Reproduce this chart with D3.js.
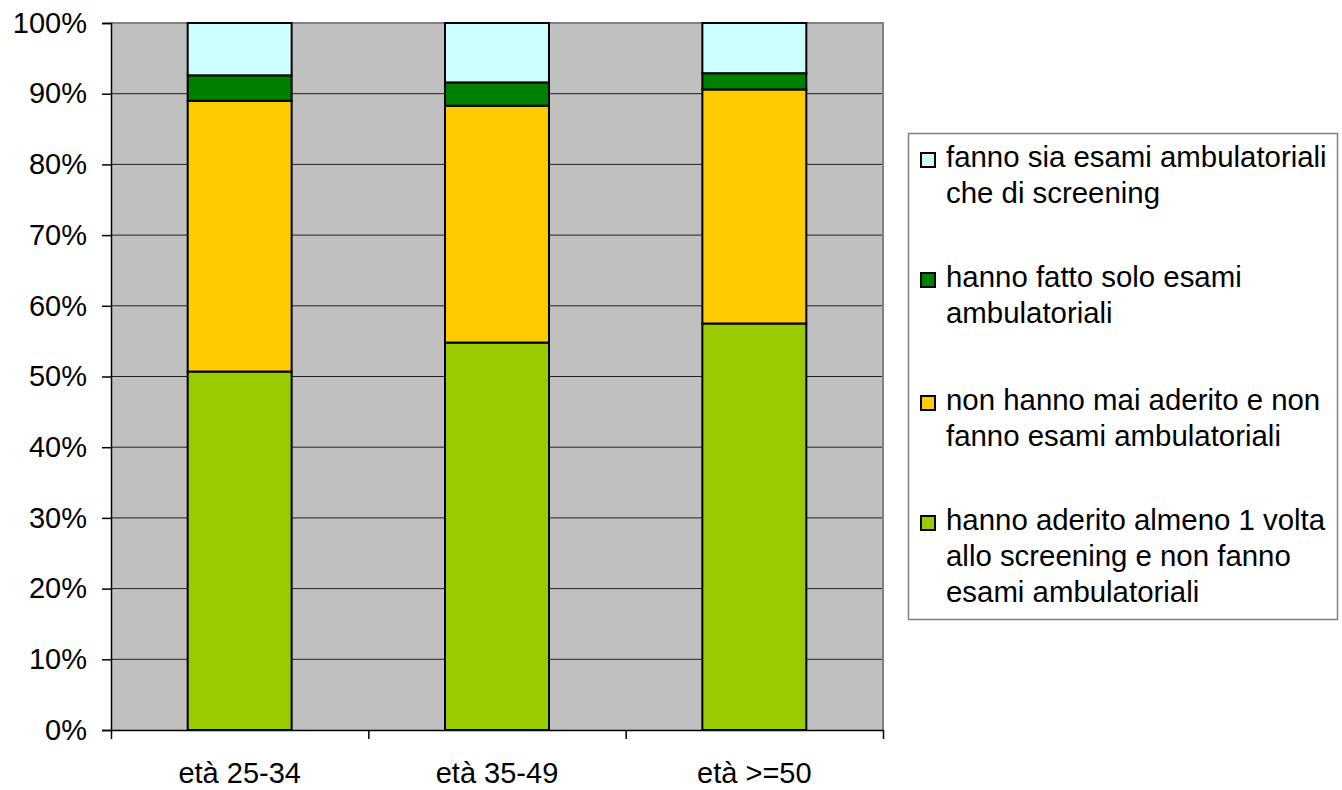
<!DOCTYPE html>
<html>
<head>
<meta charset="utf-8">
<script src="https://cdn.jsdelivr.net/npm/d3@7/dist/d3.min.js"></script>
<style>
  html, body { margin: 0; padding: 0; background: #fff; }
  svg { display: block; font-family: "Liberation Sans", Arial, sans-serif; }
</style>
</head>
<body>
<svg id="chart" width="1342" height="790"></svg>
<script>
// Age groups on the x axis
const categories = ["età 25-34", "età 35-49", "età >=50"];

// Percent of women per group, stacked from the bottom up
const aderitoScreening = [50.7, 54.8, 57.5];   // hanno aderito almeno 1 volta allo screening...
const maiAderito       = [38.3, 33.5, 33.1];   // non hanno mai aderito...
const soloAmbulatoriali = [3.6, 3.3, 2.3];     // hanno fatto solo esami ambulatoriali
const entrambi         = [7.4, 8.4, 7.1];      // fanno sia esami ambulatoriali che di screening

const yTicks = [0, 10, 20, 30, 40, 50, 60, 70, 80, 90, 100];

const seriesNames = [
  "hanno aderito almeno 1 volta allo screening e non fanno esami ambulatoriali",
  "non hanno mai aderito e non fanno esami ambulatoriali",
  "hanno fatto solo esami ambulatoriali",
  "fanno sia esami ambulatoriali che di screening"
];
// Legend text broken into lines, in the same order as seriesNames
const legendLines = [
  ["hanno aderito almeno 1 volta", "allo screening e non fanno", "esami ambulatoriali"],
  ["non hanno mai aderito e non", "fanno esami ambulatoriali"],
  ["hanno fatto solo esami", "ambulatoriali"],
  ["fanno sia esami ambulatoriali", "che di screening"]
];
const colors = ["#99CC00", "#FFCC00", "#008000", "#CCFFFF"];

const seriesValues = [aderitoScreening, maiAderito, soloAmbulatoriali, entrambi];
const table = categories.map((c, i) => {
  const row = { cat: c };
  seriesNames.forEach((s, k) => row[s] = seriesValues[k][i]);
  return row;
});
const stacked = d3.stack().keys(seriesNames)(table);

const svg = d3.select("#chart");
const plot = { left: 111, top: 23, right: 883, bottom: 730 };
const fontSize = 29;
const legendFontSize = 29.4;

const x = d3.scaleBand()
  .domain(categories)
  .range([plot.left, plot.right])
  .paddingInner(0.596)
  .paddingOuter(0.298);
const y = d3.scaleLinear().domain([0, 100]).range([plot.bottom, plot.top]);

// Plot background
svg.append("rect")
  .attr("x", plot.left).attr("y", plot.top)
  .attr("width", plot.right - plot.left).attr("height", plot.bottom - plot.top)
  .attr("fill", "#C0C0C0");

// Horizontal gridlines
svg.append("g")
  .selectAll("line")
  .data(yTicks.filter(t => t > 0 && t < 100))
  .join("line")
  .attr("x1", plot.left).attr("x2", plot.right)
  .attr("y1", d => y(d)).attr("y2", d => y(d))
  .attr("stroke", "#222").attr("stroke-width", 1);

// Top and right frame of the plot area
svg.append("path")
  .attr("d", `M${plot.left},${plot.top}H${plot.right}V${plot.bottom}`)
  .attr("fill", "none").attr("stroke", "#808080").attr("stroke-width", 2);

// Stacked bars
svg.append("g")
  .selectAll("g")
  .data(stacked)
  .join("g")
  .attr("fill", (d, i) => colors[i])
  .selectAll("rect")
  .data(d => d)
  .join("rect")
  .attr("x", d => x(d.data.cat))
  .attr("y", d => y(d[1]))
  .attr("width", x.bandwidth())
  .attr("height", d => y(d[0]) - y(d[1]))
  .attr("stroke", "#000")
  .attr("stroke-width", 2);

// Y axis
const yAxis = d3.axisLeft(y)
  .tickValues(yTicks)
  .tickFormat(d => d + "%")
  .tickSize(9)
  .tickPadding(15);
const gy = svg.append("g")
  .attr("transform", `translate(${plot.left},0)`)
  .call(yAxis);
gy.select(".domain").attr("stroke", "#000").attr("stroke-width", 1.5);
gy.selectAll(".tick line").attr("stroke", "#000").attr("stroke-width", 1.5);
gy.selectAll(".tick text")
  .attr("fill", "#000")
  .style("font-size", fontSize + "px")
  .style("font-family", "'Liberation Sans', Arial, sans-serif");

// X axis: tick marks at category boundaries, labels centered on bars
const boundaries = d3.scaleLinear().domain([0, categories.length]).range([plot.left, plot.right]);
const xAxis = d3.axisBottom(boundaries)
  .tickValues(d3.range(categories.length + 1))
  .tickFormat("")
  .tickSize(9)
  .tickSizeOuter(0);
const gx = svg.append("g")
  .attr("transform", `translate(0,${plot.bottom})`)
  .call(xAxis);
gx.select(".domain").attr("stroke", "#000").attr("stroke-width", 1.5);
gx.selectAll(".tick line").attr("stroke", "#000").attr("stroke-width", 1.5);

svg.append("g")
  .selectAll("text")
  .data(categories)
  .join("text")
  .attr("x", d => x(d) + x.bandwidth() / 2)
  .attr("y", 783)
  .attr("text-anchor", "middle")
  .style("font-size", fontSize + "px")
  .attr("fill", "#000")
  .text(d => d);

// Legend
const legend = svg.append("g");
legend.append("rect")
  .attr("x", 908.5).attr("y", 133.5)
  .attr("width", 429).attr("height", 486)
  .attr("fill", "#fff").attr("stroke", "#808080").attr("stroke-width", 1.5);

const legendOrder = [3, 2, 1, 0];
const itemBaselines = [167, 287, 410, 530];
const lineStep = 36;
legendOrder.forEach((k, j) => {
  const by = itemBaselines[j];
  legend.append("rect")
    .attr("x", 921).attr("y", by - 14)
    .attr("width", 14).attr("height", 14)
    .attr("fill", colors[k]).attr("stroke", "#000").attr("stroke-width", 2);
  const t = legend.append("text")
    .attr("x", 946).attr("y", by)
    .style("font-size", legendFontSize + "px")
    .attr("fill", "#000");
  legendLines[k].forEach((line, li) => {
    t.append("tspan").attr("x", 946).attr("y", by + li * lineStep).text(line);
  });
});
</script>
</body>
</html>
